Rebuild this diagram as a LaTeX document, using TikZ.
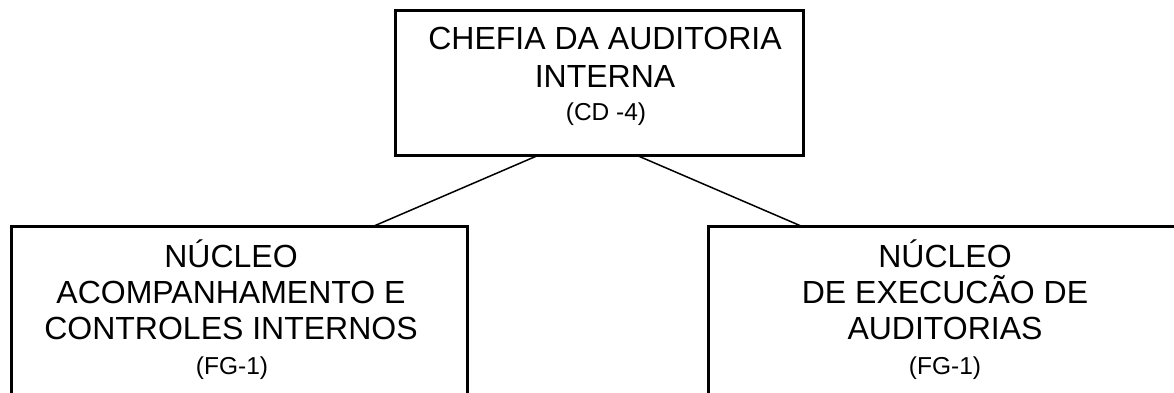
\documentclass[tikz,border=0pt]{standalone}
\usepackage{fontspec}
\setmainfont{Liberation Sans}
\begin{document}
\begin{tikzpicture}[x=1pt,y=-1pt,
  orgbox/.style={draw=black, line width=3pt, rectangle, inner sep=0pt, outer sep=0pt, fill=none},
  bigtxt/.style={anchor=base, inner sep=0pt, font=\fontsize{32}{37}\selectfont},
  smalltxt/.style={anchor=base, inner sep=0pt, font=\fontsize{24.5}{29}\selectfont},
  link/.style={draw=black, line width=1.5pt}]
\useasboundingbox (0,0) rectangle (1174,392);
\clip (0,0) rectangle (1174,392);
\fill[white] (0,0) rectangle (1174,392);
% boxes
\node[orgbox, minimum width=408pt, minimum height=145pt] (top) at (599,82.5) {};
\node[orgbox, minimum width=456pt, minimum height=204pt] (left) at (239,328) {};
\node[orgbox, minimum width=474pt, minimum height=204pt] (right) at (945,328) {};
% texts
\node[bigtxt] (t1) at (605,49) {CHEFIA DA AUDITORIA};
\node[bigtxt] (t2) at (605,87) {INTERNA};
\node[smalltxt] (t3) at (606,120) {(CD -4)};
\node[bigtxt] (l1) at (231,267) {NÚCLEO};
\node[bigtxt] (l2) at (231,303) {ACOMPANHAMENTO E};
\node[bigtxt] (l3) at (231,339) {CONTROLES INTERNOS};
\node[smalltxt] (l4) at (232,374) {(FG-1)};
\node[bigtxt] (r1) at (945,267) {NÚCLEO};
\node[bigtxt] (r2) at (945,303) {DE EXECUCÃO DE};
\node[bigtxt] (r3) at (945,339) {AUDITORIAS};
\node[smalltxt] (r4) at (945,374) {(FG-1)};
% connectors
\draw[link] ([xshift=144pt]top.south west) -- ([xshift=363pt]left.north west);
\draw[link] ([xshift=241pt]top.south west) -- ([xshift=93pt]right.north west);
\end{tikzpicture}
\end{document}
